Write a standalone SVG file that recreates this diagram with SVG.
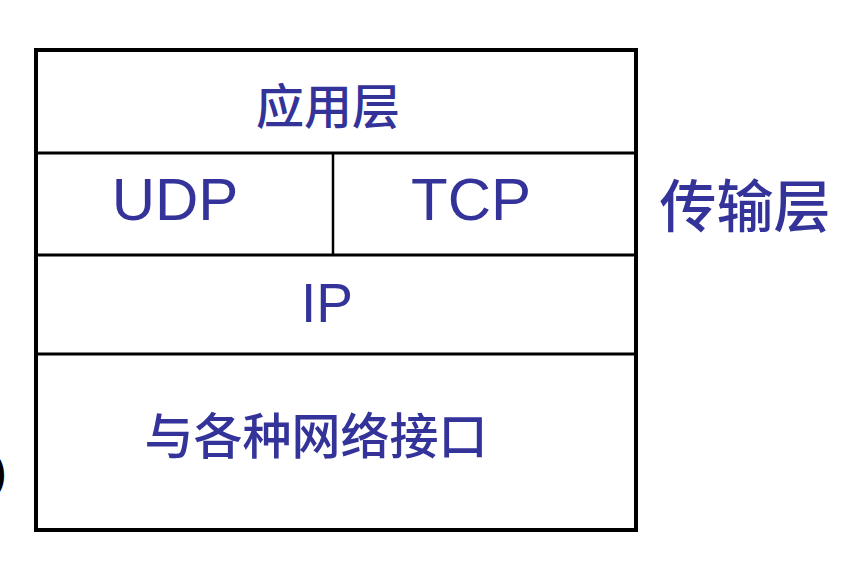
<svg xmlns="http://www.w3.org/2000/svg" width="852" height="588" viewBox="0 0 852 588">
  <style>
    .ln { stroke: #000; fill: none; }
    .lbl { fill: #333399; font-family: "Liberation Sans", Arial, "Noto Sans CJK SC", sans-serif; text-anchor: middle; }
    .cjk { fill: #333399; font-family: "Noto Sans CJK SC", "Liberation Sans", sans-serif; text-anchor: middle; font-weight: 500; }
  </style>
  <rect width="852" height="588" fill="#fff"/>
  <text x="-9" y="488" font-family="Liberation Sans, sans-serif" font-size="48" fill="#000">)</text>
  <g id="frame">
    <rect class="ln" x="36" y="50" width="600" height="480" stroke-width="4"/>
    <line class="ln" x1="36" y1="153" x2="636" y2="153" stroke-width="3"/>
    <line class="ln" x1="36" y1="255" x2="636" y2="255" stroke-width="3"/>
    <line class="ln" x1="36" y1="354" x2="636" y2="354" stroke-width="3"/>
    <line class="ln" x1="333" y1="153" x2="333" y2="255" stroke-width="2.5"/>
  </g>
  <g id="app"><text class="cjk" x="328" y="124" font-size="48">应用层</text></g>
  <g id="udp"><text class="lbl" x="175" y="220" font-size="60">UDP</text></g>
  <g id="tcp"><text class="lbl" x="471" y="220" font-size="60">TCP</text></g>
  <g id="ip"><text class="lbl" x="327" y="322" font-size="55">IP</text></g>
  <g id="net"><text class="cjk" x="316" y="454" font-size="49">与各种网络接口</text></g>
  <g id="transport"><text class="cjk" x="745" y="227" font-size="57">传输层</text></g>
</svg>
